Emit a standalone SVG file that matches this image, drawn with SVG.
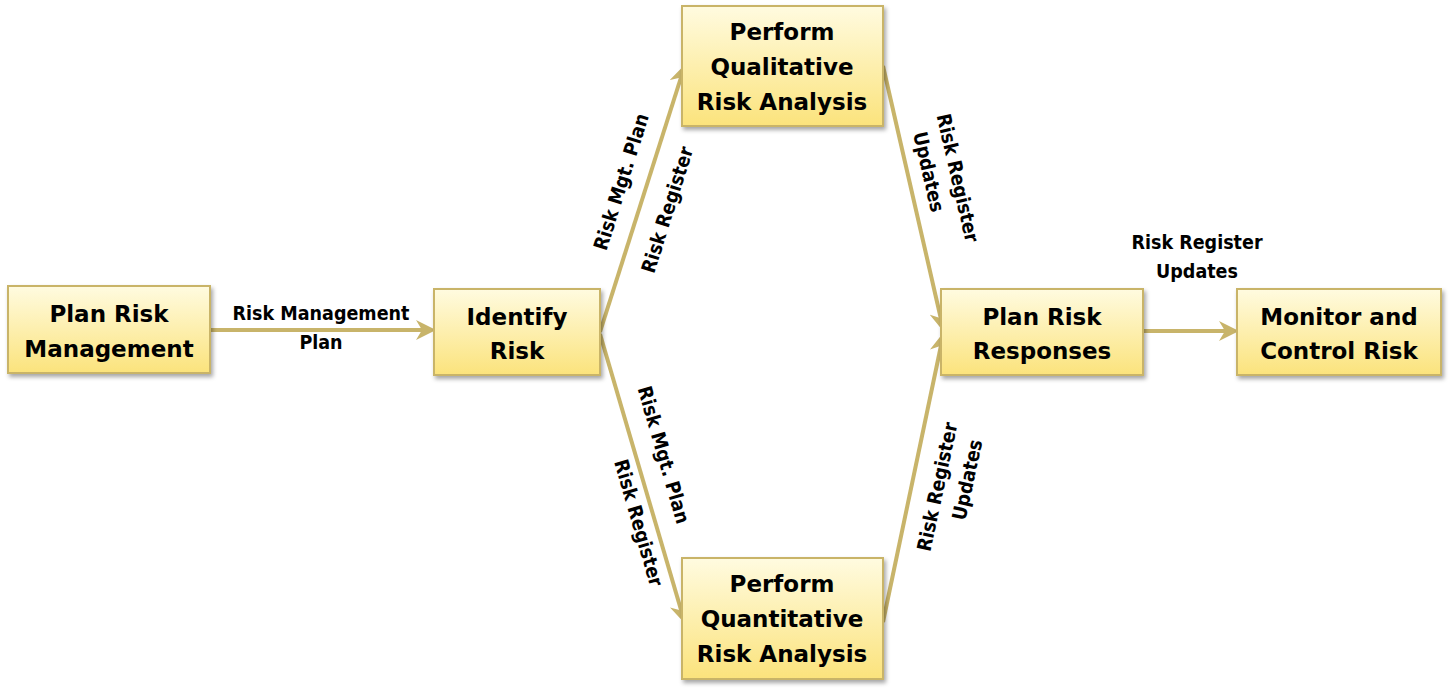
<svg xmlns="http://www.w3.org/2000/svg" width="1451" height="691" viewBox="0 0 1451 691">
<defs>
<linearGradient id="g" x1="0" y1="0" x2="0" y2="1"><stop offset="0" stop-color="#fffbe0"/><stop offset="1" stop-color="#fbe37c"/></linearGradient>
<filter id="sh" x="-10%" y="-10%" width="130%" height="130%"><feDropShadow dx="2" dy="3" stdDeviation="2" flood-color="#000" flood-opacity="0.35"/></filter>
<marker id="ah" viewBox="0 0 10 10" refX="8" refY="5" markerWidth="5" markerHeight="5" orient="auto"><path d="M0,0 L10,5 L0,10 L3,5 Z" fill="#c8b46a"/></marker>
<style>
.box{fill:url(#g);stroke:#c9b468;stroke-width:2;filter:url(#sh)}
.nt{font-family:"DejaVu Sans","Verdana",sans-serif;font-weight:bold;font-size:23px;fill:#000;text-anchor:middle}
.lb{font-family:"DejaVu Sans Condensed","DejaVu Sans",sans-serif;font-weight:bold;font-size:19.5px;fill:#000;text-anchor:middle}
.ln{stroke:#c8b46a;stroke-width:4;fill:none;marker-end:url(#ah)}
</style>
</defs>
<rect width="1451" height="691" fill="#fff"/>
<g id="connectors">
<line class="ln" x1="210" y1="330" x2="432" y2="330"/>
<line class="ln" x1="600" y1="332" x2="684" y2="68"/>
<line class="ln" x1="600" y1="334" x2="684" y2="620"/>
<line class="ln" x1="883" y1="66" x2="943" y2="328"/>
<line class="ln" x1="883" y1="622" x2="943" y2="336"/>
<line class="ln" x1="1143" y1="331" x2="1235" y2="331"/>
</g>
<g id="labels">
<text class="lb" x="321" y="320">Risk Management</text>
<text class="lb" x="321" y="349">Plan</text>
<text class="lb" transform="translate(622,182) rotate(-72.5)" y="6">Risk Mgt. Plan</text>
<text class="lb" transform="translate(668,210) rotate(-72.5)" y="6">Risk Register</text>
<text class="lb" transform="translate(663,455) rotate(73.8)" y="6">Risk Mgt. Plan</text>
<text class="lb" transform="translate(638,523) rotate(73.8)" y="6">Risk Register</text>
<text class="lb" transform="translate(957,178) rotate(77)" y="6">Risk Register</text>
<text class="lb" transform="translate(928,172) rotate(77)" y="6">Updates</text>
<text class="lb" transform="translate(938,487) rotate(-78)" y="6">Risk Register</text>
<text class="lb" transform="translate(968,480) rotate(-78)" y="6">Updates</text>
<text class="lb" x="1197" y="249">Risk Register</text>
<text class="lb" x="1197" y="278">Updates</text>
</g>
<g id="n1"><rect class="box" x="8" y="286" width="202" height="87"/><text class="nt" x="109" y="322">Plan Risk</text><text class="nt" x="109" y="357">Management</text></g>
<g id="n2"><rect class="box" x="434" y="289" width="166" height="86"/><text class="nt" x="517" y="325">Identify</text><text class="nt" x="517" y="359">Risk</text></g>
<g id="n3"><rect class="box" x="682" y="6" width="201" height="120"/><text class="nt" x="782" y="40">Perform</text><text class="nt" x="782" y="75">Qualitative</text><text class="nt" x="782" y="110">Risk Analysis</text></g>
<g id="n4"><rect class="box" x="682" y="558" width="201" height="121"/><text class="nt" x="782" y="592">Perform</text><text class="nt" x="782" y="627">Quantitative</text><text class="nt" x="782" y="662">Risk Analysis</text></g>
<g id="n5"><rect class="box" x="941" y="289" width="202" height="86"/><text class="nt" x="1042" y="325">Plan Risk</text><text class="nt" x="1042" y="359">Responses</text></g>
<g id="n6"><rect class="box" x="1237" y="289" width="204" height="86"/><text class="nt" x="1339" y="325">Monitor and</text><text class="nt" x="1339" y="359">Control Risk</text></g>
</svg>
